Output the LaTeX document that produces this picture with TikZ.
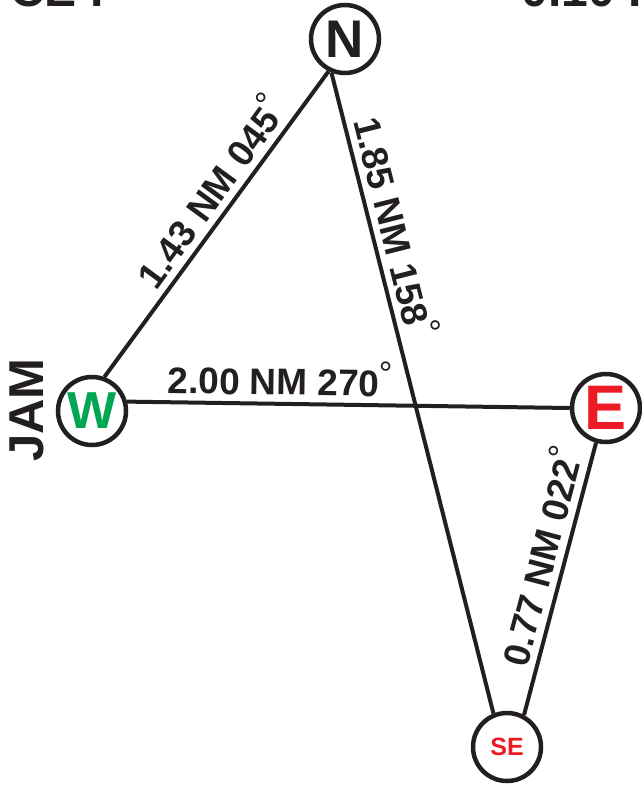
\documentclass[tikz,border=0pt]{standalone}
\usepackage{fontspec}
\setmainfont{Liberation Sans}
\definecolor{ink}{HTML}{231F20}
\definecolor{wgreen}{HTML}{00A651}
\definecolor{ered}{HTML}{ED1C24}
\newcommand\dg{\kern-1pt\raisebox{11pt}{\fontsize{34}{34}\selectfont\mdseries °}}
\begin{document}
\begin{tikzpicture}[x=1pt,y=-1pt,
  stn/.style={circle, draw=ink, line width=4.5pt, minimum size=68pt, inner sep=0pt, fill=white},
  leg/.style={draw=ink, line width=4pt},
  lbl/.style={font=\fontsize{37}{37}\selectfont\bfseries, text=ink, sloped, above, inner sep=6.5pt},
  frag/.style={font=\fontsize{48}{48}\selectfont\bfseries, text=ink, inner sep=0pt}]
\useasboundingbox (0,0) rectangle (642,787);
\begin{scope}
\clip (0,0) rectangle (642,787);
\node[frag, anchor=base west] (tl) at (10,6) {CE I};
\node[frag, anchor=base east] (tr) at (642,6) {0.10 I};
\end{scope}
\node[stn] (N) at (345,39) {\fontsize{53}{53}\selectfont\bfseries\color{ink}N};
\node[stn] (W) at (92,411) {\fontsize{52}{52}\selectfont\bfseries\color{wgreen}W};
\node[stn] (E) at (606,408) {\fontsize{63}{63}\selectfont\bfseries\color{ered}E};
\node[stn] (SE) at (507,747) {\fontsize{25}{25}\selectfont\bfseries\color{ered}SE};
\node[font=\fontsize{49}{49}\selectfont\bfseries, text=ink, rotate=90, inner sep=0pt] (jam) at (27,410) {JAM};
\draw[leg] (W.70) -- node[lbl, pos=0.56] {1.43 NM 045\dg} (N.243);
\draw[leg] (N.248) -- node[lbl, pos=0.25] {1.85 NM 158\dg} (SE.112);
\draw[leg] (W.15) -- node[lbl, pos=0.345] {2.00 NM 270\dg} (E.180);
\draw[leg] (SE.62) -- node[lbl, pos=0.56] {0.77 NM 022\dg} (E.254);
\end{tikzpicture}
\end{document}
